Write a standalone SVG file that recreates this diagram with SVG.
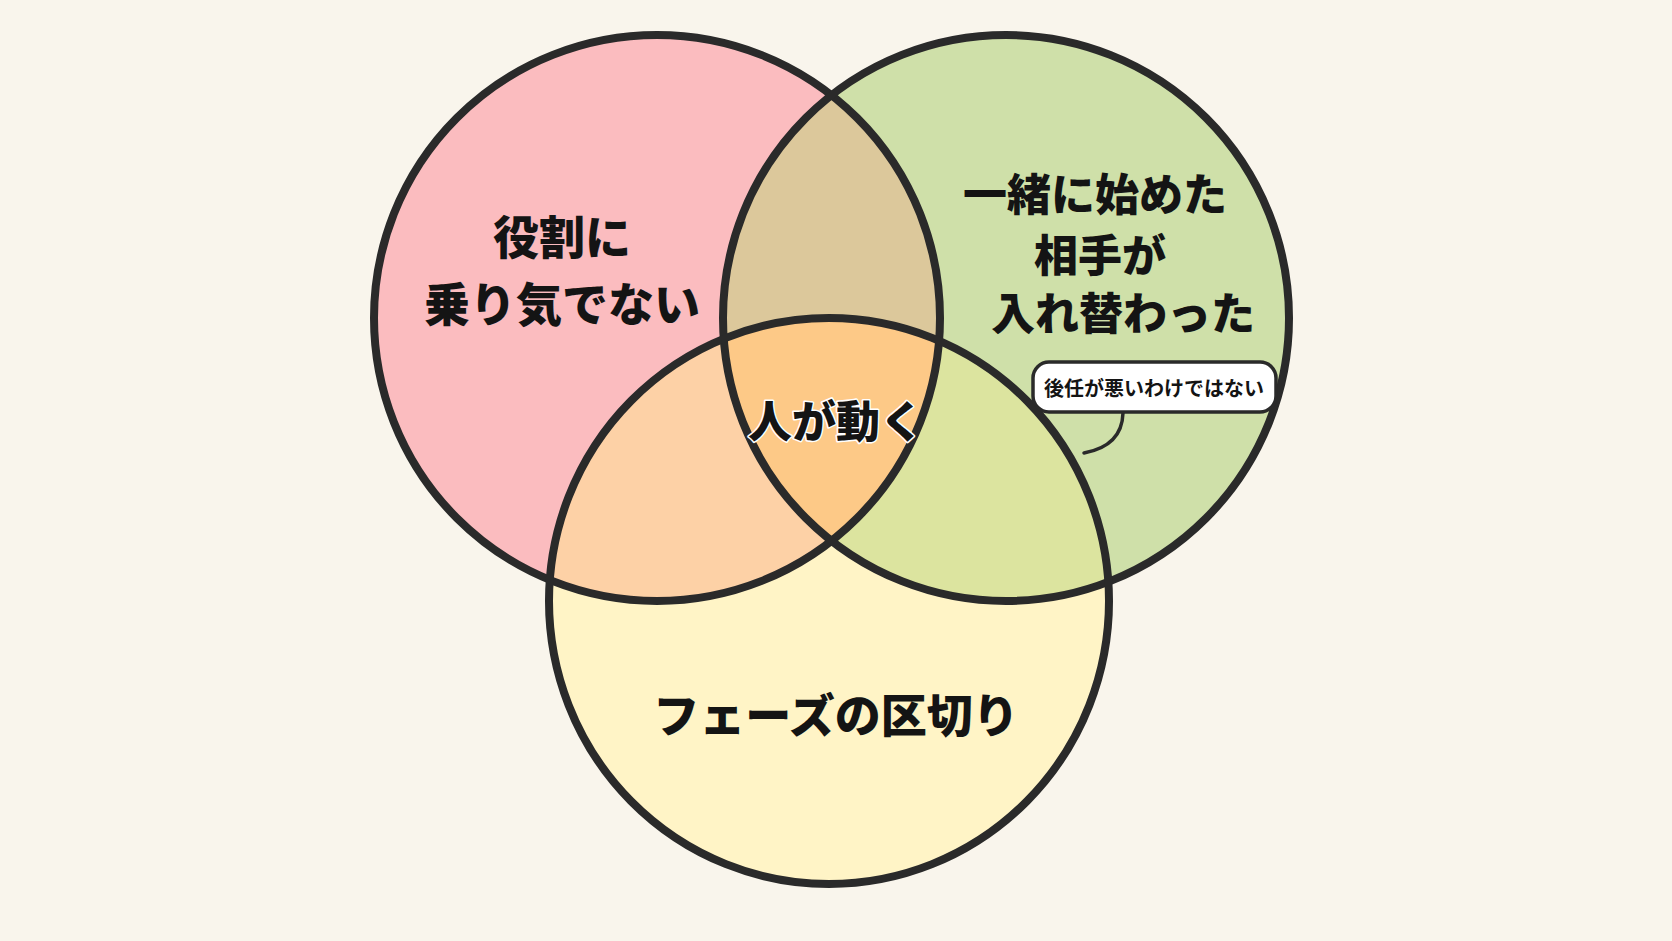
<svg xmlns="http://www.w3.org/2000/svg" width="1672" height="941" viewBox="0 0 1672 941">
  <defs>
    <clipPath id="cL"><circle cx="657" cy="318" r="283"/></clipPath>
    <clipPath id="cR"><circle cx="1006" cy="318" r="283"/></clipPath>
    <clipPath id="cB"><ellipse cx="829" cy="601" rx="280" ry="283"/></clipPath>
    <style>
      .ring{fill:none;stroke:#2a2a2a;stroke-width:8}
      .lbl{font-family:"Noto Sans CJK JP","Noto Sans",sans-serif;font-weight:900;fill:#141414;text-anchor:middle;dominant-baseline:central}
      .halo{paint-order:stroke;stroke:#ffffff;stroke-width:3;stroke-linejoin:round}
      .big{font-size:46px}
      .mid{font-size:44px}
      .small{font-size:20px;font-weight:700}
    </style>
  </defs>
  <rect width="1672" height="941" fill="#f9f5ec"/>

  <g id="fills">
    <circle cx="657" cy="318" r="283" fill="#fbbcbf"/>
    <circle cx="1006" cy="318" r="283" fill="#cfe0a9"/>
    <ellipse cx="829" cy="601" rx="280" ry="283" fill="#fff4c6"/>
    <circle cx="1006" cy="318" r="283" fill="#dcc89b" clip-path="url(#cL)"/>
    <ellipse cx="829" cy="601" rx="280" ry="283" fill="#fdd1a6" clip-path="url(#cL)"/>
    <ellipse cx="829" cy="601" rx="280" ry="283" fill="#dce49f" clip-path="url(#cR)"/>
    <g clip-path="url(#cL)">
      <ellipse cx="829" cy="601" rx="280" ry="283" fill="#fdc987" clip-path="url(#cR)"/>
    </g>
  </g>

  <g id="node-left">
    <circle class="ring" cx="657" cy="318" r="283"/>
  </g>
  <g id="node-right">
    <circle class="ring" cx="1006" cy="318" r="283"/>
  </g>
  <g id="node-bottom">
    <ellipse class="ring" cx="829" cy="601" rx="280" ry="283"/>
  </g>

  <g id="label-left">
    <text class="lbl big" x="562" y="234">役割に</text>
    <text class="lbl big" x="562" y="301">乗り気でない</text>
  </g>
  <g id="label-right">
    <text class="lbl mid" x="1095" y="192">一緒に始めた</text>
    <text class="lbl mid" x="1100" y="253">相手が</text>
    <text class="lbl mid" x="1123" y="311">入れ替わった</text>
  </g>
  <g id="label-bottom">
    <text class="lbl big" x="836" y="712">フェーズの区切り</text>
  </g>
  <g id="label-center">
    <text class="lbl mid halo" x="836" y="419">人が動く</text>
  </g>

  <g id="connectors">
    <path d="M1123,413 Q1122,446 1084,453" fill="none" stroke="#2a2a2a" stroke-width="3.5" stroke-linecap="round"/>
  </g>

  <g id="callout">
    <rect x="1033" y="362" width="243" height="50" rx="16" fill="#ffffff" stroke="#2a2a2a" stroke-width="3.5"/>
    <text class="lbl small" x="1154" y="387">後任が悪いわけではない</text>
  </g>
</svg>
